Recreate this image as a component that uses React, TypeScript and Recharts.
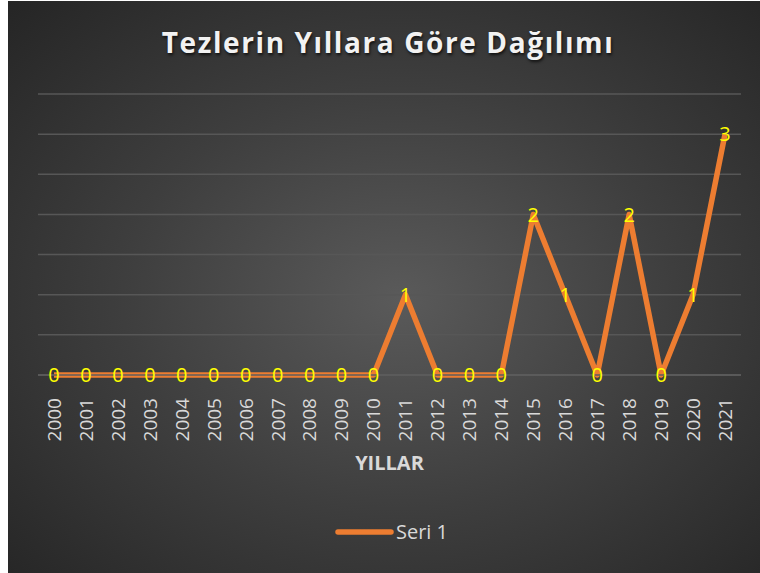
import React from 'react';
import { LineChart, Line, XAxis, YAxis, CartesianGrid, LabelList, Legend } from 'recharts';

const years = ['2000','2001','2002','2003','2004','2005','2006','2007','2008','2009','2010','2011','2012','2013','2014','2015','2016','2017','2018','2019','2020','2021'];
const seri1 = [0,0,0,0,0,0,0,0,0,0,0,1,0,0,0,2,1,0,2,0,1,3];
const yTicks = [0,0.5,1,1.5,2,2.5,3,3.5];

const data = years.map((y, i) => ({ year: y, v: seri1[i] }));

const FONT = '"Open Sans", "Liberation Sans", sans-serif';

const XTick = (props: any) => {
  const { x, y, payload } = props;
  return (
    <g transform={`translate(${x},${y + 15}) rotate(-90)`}>
      <text x={0} y={0} dy="0.36em" textAnchor="end" fill="#d9d9d9" fontSize={19} fontFamily={FONT}>
        {payload.value}
      </text>
    </g>
  );
};

const ValueLabel = (props: any) => {
  const { x, y, value } = props;
  return (
    <text x={x} y={y} dy="0.36em" textAnchor="middle" fill="#ffff00" fontSize={20} fontFamily={FONT}>
      {value}
    </text>
  );
};

const LegendContent = () => (
  <svg width={752} height={40}>
    <line x1={330} y1={17} x2={383} y2={17} stroke="#ED7D31" strokeWidth={5.5} strokeLinecap="round" />
    <text x={388} y={17} dy="0.36em" fill="#d9d9d9" fontSize={20} fontFamily={FONT}>Seri 1</text>
  </svg>
);

export default function App() {
  return (
    <div style={{ position: 'absolute', left: 8, top: 1, width: 752, height: 572,
      background: 'radial-gradient(ellipse farthest-corner at 52% 52%, #5a5a5a 0%, #3e3e3e 50%, #252525 100%)' }}>
      <div style={{ position: 'absolute', left: 0, top: 22, width: 760, textAlign: 'center', color: '#f2f2f2',
        fontFamily: FONT, fontWeight: 700, fontSize: 28, letterSpacing: 1.6, textShadow: '1px 2px 3px rgba(0,0,0,0.7)' }}>
        Tezlerin Yıllara Göre Dağılımı
      </div>
      <LineChart width={752} height={572} data={data} margin={{ top: 93, right: 19, left: 30, bottom: 98 }}>
        <CartesianGrid vertical={false} stroke="#575757" strokeWidth={1.5} />
        <YAxis hide domain={[0, 3.5]} ticks={yTicks} type="number" />
        <XAxis dataKey="year" height={100} tick={<XTick />} tickLine={false} axisLine={{ stroke: '#5e5e5e', strokeWidth: 1.5 }}
          interval={0} padding={{ left: 16, right: 16 }}
          label={{ value: 'YILLAR', position: 'insideBottom', offset: 5, fill: '#d9d9d9', fontSize: 20, fontWeight: 700, fontFamily: FONT }} />
        <Legend layout="horizontal" verticalAlign="middle" align="center" content={<LegendContent />}
          wrapperStyle={{ top: 514, left: 0, width: 752, height: 40 }} />
        <Line dataKey="v" stroke="#ED7D31" strokeWidth={5.5} dot={false} strokeLinejoin="round" isAnimationActive={false}>
          <LabelList dataKey="v" content={<ValueLabel />} />
        </Line>
      </LineChart>
    </div>
  );
}
